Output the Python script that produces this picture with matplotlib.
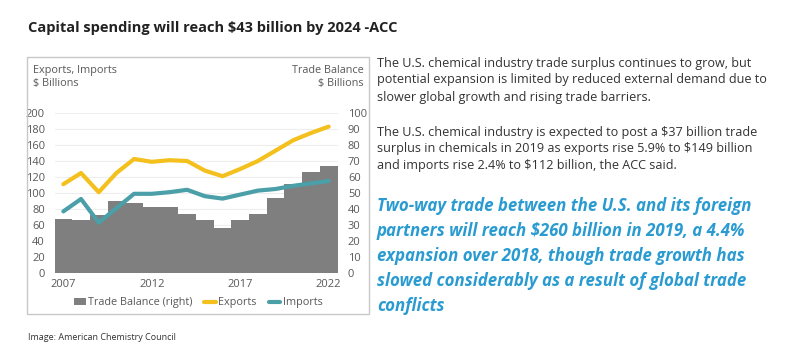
import matplotlib
matplotlib.use('Agg')
import matplotlib.pyplot as plt
from matplotlib.patches import Rectangle

years = list(range(2007, 2023))
trade_balance = [34, 33, 36, 45, 44, 41, 41, 37, 33, 28, 33, 37, 47, 55.5, 63, 67]
exports = [111, 125, 101, 125, 142.5, 139, 141, 140, 128, 121, 130, 140, 153, 166, 175, 183]
imports = [77, 92.5, 63, 81, 99, 99, 101, 104, 96, 93, 98, 103, 105, 109, 112, 115]
left_ticks = list(range(0, 201, 20))
right_ticks = list(range(0, 101, 10))
year_ticks = [2007, 2012, 2017, 2022]

title = "Capital spending will reach $43 billion by 2024 -ACC"
para1 = ["The U.S. chemical industry trade surplus continues to grow, but",
         "potential expansion is limited by reduced external demand due to",
         "slower global growth and rising trade barriers."]
para2 = ["The U.S. chemical industry is expected to post a $37 billion trade",
         "surplus in chemicals in 2019 as exports rise 5.9% to $149 billion",
         "and imports rise 2.4% to $112 billion, the ACC said."]
quote = ["Two-way trade between the U.S. and its foreign",
         "partners will reach $260 billion in 2019, a 4.4%",
         "expansion over 2018, though trade growth has",
         "slowed considerably as a result of global trade",
         "conflicts"]

plt.rcParams['font.family'] = ['Open Sans', 'DejaVu Sans']

W, H = 800, 350
fig = plt.figure(figsize=(8, 3.5), dpi=100)

def fx(px):
    return px / W

def fy(py):
    return 1 - py / H

# chart frame
fig.patches.append(Rectangle((fx(27), fy(314)), fx(369) - fx(27), fy(57) - fy(314),
                             transform=fig.transFigure, fill=False,
                             edgecolor='#c8c8c8', linewidth=1))

ax2 = fig.add_axes([fx(54.5), fy(273), fx(337.5) - fx(54.5), fy(113) - fy(273)])
ax = ax2.twinx()
ax.yaxis.tick_left()
ax2.yaxis.tick_right()
ax.set_zorder(ax2.get_zorder() + 1)
ax.patch.set_visible(False)

ax2.bar(years, trade_balance, width=1.0, color='#7f7f7f', label='Trade Balance (right)')
ax2.set_ylim(0, 100)
ax2.set_yticks(right_ticks)
ax2.grid(axis='y', color='#eeeeee', linewidth=0.8)
ax2.set_axisbelow(True)

ax.plot(years, exports, color='#f4c01e', linewidth=3, label='Exports', solid_capstyle='round')
ax.plot(years, imports, color='#4a9fa8', linewidth=3, label='Imports', solid_capstyle='round')
ax.set_ylim(0, 200)
ax.set_yticks(left_ticks)
ax.set_xlim(2006.5, 2022.5)
ax2.set_xticks(year_ticks)

for a in (ax, ax2):
    for s in a.spines.values():
        s.set_visible(False)
    a.tick_params(length=0, labelsize=8, colors='#595959')
ax.tick_params(axis='y', pad=7)
ax2.tick_params(axis='y', pad=7.5)
ax2.tick_params(axis='x', pad=4.5)

fig.text(fx(33), fy(77), "Exports, Imports\n$ Billions", fontsize=7.8, color='#595959',
         ha='left', va='center', linespacing=1.25)
fig.text(fx(364), fy(77), "Trade Balance\n$ Billions", fontsize=7.8, color='#595959',
         ha='right', va='center', multialignment='right', linespacing=1.25)

h1, l1 = ax2.get_legend_handles_labels()
h2, l2 = ax.get_legend_handles_labels()
fig.legend(h1 + h2, l1 + l2, loc='center', bbox_to_anchor=(fx(198), fy(303)), ncol=3,
           frameon=False, fontsize=7.8, labelcolor='#595959', handlelength=1.1,
           handletextpad=0.2, columnspacing=1.1, handleheight=0.6)

fig.text(fx(28), fy(28), title, fontsize=10.5, fontweight='bold', color='#222222',
         ha='left', va='center')
fig.text(fx(28), fy(337), "Image: American Chemistry Council", fontsize=6.5,
         color='#333333', ha='left', va='center')

for i, line in enumerate(para1):
    fig.text(fx(377), fy(63 + 17 * i), line, fontsize=9.05, color='#333333', va='center')
for i, line in enumerate(para2):
    fig.text(fx(377), fy(132 + 16.5 * i), line, fontsize=9.05, color='#333333', va='center')
for i, line in enumerate(quote):
    fig.text(fx(377), fy(206 + 25 * i), line, fontsize=12.15, color='#2a9bd0',
             fontweight='bold', fontstyle='italic', va='center')

fig.savefig('out.png', dpi=100)
